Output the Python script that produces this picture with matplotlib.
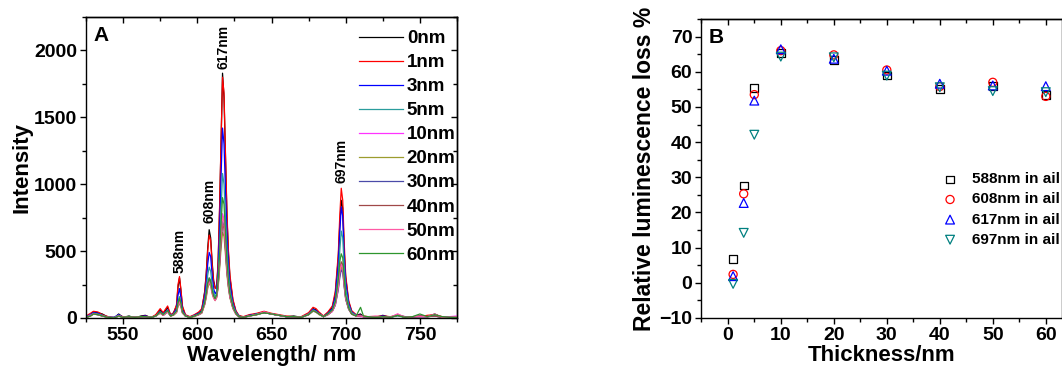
import matplotlib
matplotlib.use("Agg")
import matplotlib.pyplot as plt
from matplotlib.ticker import MultipleLocator

plt.rcParams["font.family"] = "Liberation Sans"
plt.rcParams["font.weight"] = "bold"
plt.rcParams["axes.linewidth"] = 1.0

# 1) Spectra (panel A)
wavelength = [525, 528, 530, 533, 536, 540, 544, 547, 550, 554,
              558, 562, 565, 569, 572, 575, 577, 580, 582, 584,
              586, 587, 588, 589, 590, 592, 595, 598, 601, 603,
              605, 606, 607, 608, 609, 610, 611, 612, 613, 614,
              615, 616, 617, 618, 619, 620, 621, 622, 624, 626,
              628, 631, 635, 640, 645, 650, 655, 660, 665, 670,
              675, 678, 680, 682, 685, 688, 691, 693, 695, 696,
              697, 698, 699, 700, 702, 704, 707, 710, 712, 715,
              720, 725, 730, 735, 740, 745, 750, 755, 760, 765,
              770, 775]

int_0nm = [10, 20, 45, 40, 30, 5, 0, 30, 5, 15,
           0, 15, 20, 0, 20, 60, 30, 80, 20, 40,
           90, 230, 300, 200, 80, 20, 5, 20, 40, 60,
           200, 330, 520, 660, 600, 420, 280, 230, 220, 400,
           800, 1300, 1830, 1650, 1200, 750, 480, 300, 130, 50,
           15, 5, 20, 30, 45, 30, 20, 10, 15, 5,
           30, 70, 60, 40, 10, 40, 80, 180, 450, 700,
           880, 820, 500, 300, 120, 50, 20, 30, 10, 10,
           5, 20, 5, 25, 5, 5, 15, 10, 30, 5,
           10, 5]
int_1nm = [15, 35, 50, 45, 25, 10, 5, 20, 10, 10,
           5, 10, 15, 5, 25, 70, 40, 90, 25, 35,
           100, 250, 310, 210, 90, 25, 10, 25, 45, 70,
           190, 320, 500, 620, 580, 400, 270, 220, 230, 420,
           820, 1320, 1800, 1680, 1220, 780, 500, 320, 140, 55,
           20, 10, 25, 35, 50, 35, 25, 15, 10, 10,
           40, 80, 70, 45, 15, 45, 90, 200, 480, 760,
           970, 880, 560, 320, 130, 55, 25, 20, 15, 10,
           10, 15, 10, 20, 10, 10, 10, 20, 25, 10,
           5, 10]
int_3nm = [10, 25, 40, 35, 20, 5, 5, 25, 5, 10,
           5, 10, 15, 5, 15, 50, 30, 60, 20, 30,
           70, 170, 220, 150, 60, 20, 5, 20, 35, 50,
           160, 260, 400, 490, 460, 320, 220, 180, 200, 340,
           650, 1050, 1420, 1300, 950, 620, 400, 250, 110, 45,
           15, 5, 20, 30, 40, 30, 20, 10, 10, 5,
           30, 65, 55, 35, 10, 35, 70, 160, 400, 640,
           830, 760, 460, 270, 110, 45, 20, 20, 10, 10,
           5, 15, 5, 20, 5, 10, 10, 10, 20, 5,
           10, 5]
int_5nm = [10, 20, 35, 30, 20, 5, 5, 20, 5, 10,
           5, 10, 10, 5, 15, 45, 25, 55, 15, 25,
           55, 120, 160, 110, 50, 15, 5, 15, 30, 45,
           130, 210, 320, 380, 350, 250, 190, 160, 180, 290,
           520, 800, 1080, 1000, 750, 500, 330, 210, 95, 40,
           15, 5, 15, 30, 40, 30, 20, 10, 10, 5,
           30, 60, 50, 30, 10, 30, 60, 130, 320, 500,
           650, 600, 380, 220, 95, 40, 20, 15, 10, 10,
           5, 10, 5, 15, 5, 10, 10, 10, 15, 5,
           5, 5]
int_10nm = [5, 20, 30, 25, 15, 5, 0, 20, 5, 10,
            5, 10, 10, 5, 15, 40, 20, 50, 15, 25,
            45, 95, 120, 90, 40, 15, 5, 15, 25, 40,
            110, 170, 250, 300, 280, 200, 160, 140, 160, 250,
            420, 620, 780, 740, 560, 380, 260, 170, 80, 35,
            10, 5, 15, 25, 45, 30, 20, 10, 10, 5,
            25, 55, 45, 30, 10, 25, 50, 100, 230, 340,
            400, 380, 250, 150, 70, 30, 15, 10, 10, 10,
            5, 10, 5, 30, 5, 10, 15, 10, 15, 5,
            10, 15]
int_20nm = [5, 15, 30, 25, 15, 5, 0, 15, 5, 10,
            5, 10, 10, 5, 15, 35, 20, 45, 15, 20,
            40, 85, 110, 80, 35, 15, 5, 10, 25, 35,
            100, 150, 220, 260, 240, 180, 150, 130, 150, 220,
            360, 520, 640, 610, 470, 320, 220, 150, 70, 30,
            10, 5, 15, 25, 40, 30, 20, 10, 10, 5,
            25, 50, 45, 25, 10, 25, 50, 100, 220, 320,
            380, 360, 240, 140, 65, 30, 15, 15, 10, 10,
            5, 10, 5, 20, 5, 10, 10, 10, 15, 5,
            5, 5]
int_30nm = [5, 15, 30, 25, 15, 5, 0, 15, 5, 10,
            5, 10, 10, 5, 15, 40, 20, 45, 15, 25,
            45, 100, 130, 95, 40, 15, 5, 15, 25, 40,
            110, 170, 250, 290, 270, 200, 160, 140, 160, 240,
            400, 580, 720, 690, 520, 350, 240, 160, 75, 30,
            10, 5, 15, 25, 40, 30, 20, 10, 10, 5,
            25, 55, 45, 30, 10, 25, 50, 95, 210, 300,
            360, 340, 230, 140, 65, 30, 15, 15, 10, 10,
            5, 10, 5, 20, 10, 10, 10, 10, 15, 5,
            5, 5]
int_40nm = [5, 15, 30, 25, 15, 5, 0, 15, 5, 10,
            5, 10, 10, 5, 15, 40, 20, 50, 15, 25,
            45, 105, 140, 100, 45, 15, 5, 15, 25, 40,
            105, 165, 240, 280, 260, 195, 155, 135, 155, 235,
            390, 570, 700, 670, 510, 340, 235, 155, 75, 30,
            10, 5, 15, 25, 40, 30, 20, 10, 10, 5,
            25, 55, 45, 30, 10, 25, 55, 110, 250, 360,
            420, 400, 260, 150, 70, 30, 15, 15, 10, 10,
            5, 10, 5, 20, 5, 10, 15, 10, 15, 5,
            5, 5]
int_50nm = [5, 15, 30, 25, 15, 5, 0, 15, 5, 10,
            5, 10, 10, 5, 15, 40, 20, 45, 15, 25,
            40, 95, 120, 90, 40, 15, 5, 15, 25, 40,
            100, 160, 235, 270, 250, 190, 150, 130, 155, 245,
            420, 610, 760, 720, 540, 360, 245, 160, 75, 30,
            10, 5, 15, 25, 45, 30, 20, 10, 10, 5,
            25, 55, 45, 30, 10, 25, 50, 100, 230, 340,
            400, 380, 250, 150, 70, 30, 15, 15, 10, 10,
            15, 10, 5, 30, 5, 10, 10, 10, 30, 5,
            5, 10]
int_60nm = [5, 15, 30, 25, 15, 5, 0, 15, 5, 10,
            5, 10, 10, 5, 15, 45, 25, 55, 15, 25,
            50, 115, 150, 110, 45, 15, 5, 15, 30, 45,
            115, 180, 260, 300, 280, 210, 165, 145, 170, 270,
            470, 700, 900, 850, 640, 420, 280, 180, 85, 35,
            10, 5, 15, 25, 40, 30, 20, 10, 10, 5,
            25, 55, 45, 30, 10, 30, 60, 120, 290, 420,
            480, 450, 300, 170, 75, 30, 15, 80, 15, 10,
            5, 10, 5, 20, 5, 10, 30, 10, 25, 10,
            5, 5]

spectra = [int_0nm, int_1nm, int_3nm, int_5nm, int_10nm,
           int_20nm, int_30nm, int_40nm, int_50nm, int_60nm]
spectra_labels = ["0nm", "1nm", "3nm", "5nm", "10nm",
                  "20nm", "30nm", "40nm", "50nm", "60nm"]
spectra_colors = ["#000000", "#ff0000", "#0000ff", "#2a9d9d", "#ff33ff",
                  "#9c9c2e", "#4a4aa8", "#a04848", "#ff5aa5", "#2e962e"]

peak_labels = ["588nm", "608nm", "617nm", "697nm"]
peak_x = [588, 608.5, 617.5, 697.3]
peak_y = [340, 710, 1860, 1010]

# 2) Relative luminescence loss (panel B)
thickness = [1, 3, 5, 10, 20, 30, 40, 50, 60]
loss_588 = [6.7, 27.7, 55.3, 65.4, 63.3, 58.9, 55.1, 55.9, 53.4]
loss_608 = [2.4, 25.3, 53.5, 66.0, 64.8, 60.5, 55.8, 57.0, 53.0]
loss_617 = [1.9, 22.7, 51.8, 66.4, 63.7, 60.3, 56.6, 56.1, 55.9]
loss_697 = [-0.3, 14.2, 42.1, 64.3, 64.1, 58.9, 55.6, 54.5, 54.2]
loss_labels = ["588nm in ail", "608nm in ail", "617nm in ail", "697nm in ail"]

fig = plt.figure(figsize=(10.62, 3.73), dpi=100)
W, H = 1062.0, 373.0
axA = fig.add_axes([86 / W, 1 - 318 / H, 371 / W, 301 / H])
axB = fig.add_axes([701.3 / W, 1 - 318 / H, 360.4 / W, 299 / H])

# 3) Panel A
for vals, lab, col in zip(spectra, spectra_labels, spectra_colors):
    axA.plot(wavelength, vals, color=col, lw=0.9, label=lab)

for lab, x, y in zip(peak_labels, peak_x, peak_y):
    axA.text(x, y, lab, rotation=90, ha="center", va="bottom",
             fontsize=10, fontweight="bold")

axA.set_xlim(525, 775)
axA.set_ylim(0, 2250)
axA.xaxis.set_major_locator(MultipleLocator(50))
axA.xaxis.set_minor_locator(MultipleLocator(25))
axA.yaxis.set_major_locator(MultipleLocator(500))
axA.yaxis.set_minor_locator(MultipleLocator(250))
axA.set_xlabel("Wavelength/ nm", fontsize=16, fontweight="bold", labelpad=1)
axA.set_ylabel("Intensity", fontsize=16, fontweight="bold", labelpad=1)
axA.text(0.02, 0.97, "A", transform=axA.transAxes, fontsize=15,
         fontweight="bold", va="top", ha="left")
axA.legend(loc="upper left", bbox_to_anchor=(0.736, 0.957), frameon=False,
           fontsize=13.5, handlelength=2.35, handletextpad=0.2,
           labelspacing=0.37, borderpad=0, borderaxespad=0)

# 4) Panel B
axB.scatter(thickness, loss_588, marker="s", facecolors="none",
            edgecolors="black", s=30, lw=0.9, label=loss_labels[0])
axB.scatter(thickness, loss_608, marker="o", facecolors="none",
            edgecolors="red", s=34, lw=0.9, label=loss_labels[1])
axB.scatter(thickness, loss_617, marker="^", facecolors="none",
            edgecolors="blue", s=40, lw=0.9, label=loss_labels[2])
axB.scatter(thickness, loss_697, marker="v", facecolors="none",
            edgecolors="#008080", s=40, lw=0.9, label=loss_labels[3])

axB.set_xlim(-5, 63)
axB.set_ylim(-10, 75)
axB.xaxis.set_major_locator(MultipleLocator(10))
axB.xaxis.set_minor_locator(MultipleLocator(5))
axB.yaxis.set_major_locator(MultipleLocator(10))
axB.yaxis.set_minor_locator(MultipleLocator(5))
axB.set_xlabel("Thickness/nm", fontsize=16, fontweight="bold", labelpad=1)
axB.set_ylabel("Relative luminescence loss %", fontsize=16.5,
               fontweight="bold", labelpad=2)
axB.text(0.02, 0.97, "B", transform=axB.transAxes, fontsize=15,
         fontweight="bold", va="top", ha="left")
axB.legend(loc="upper left", bbox_to_anchor=(0.669, 0.487), frameon=False,
           fontsize=11, handlelength=1.0, handletextpad=0.95,
           labelspacing=0.4, borderpad=0, borderaxespad=0, scatterpoints=1)

# 5) Ticks: out on bottom/left, in on top (and right on panel A)
for ax, xmaj, xmin, ymaj, ymin in [(axA, 50, 25, 500, 250), (axB, 10, 5, 10, 5)]:
    ax.tick_params(which="major", direction="out", length=4.5, width=1,
                   labelsize=14, pad=2)
    ax.tick_params(which="minor", direction="out", length=3, width=1)
    for lab in ax.get_xticklabels() + ax.get_yticklabels():
        lab.set_fontweight("bold")
    top = ax.secondary_xaxis("top")
    top.xaxis.set_major_locator(MultipleLocator(xmaj))
    top.xaxis.set_minor_locator(MultipleLocator(xmin))
    top.tick_params(which="both", direction="in", labeltop=False, width=1)
    top.tick_params(which="major", length=4.5)
    top.tick_params(which="minor", length=3)

right = axA.secondary_yaxis("right")
right.yaxis.set_major_locator(MultipleLocator(500))
right.yaxis.set_minor_locator(MultipleLocator(250))
right.tick_params(which="both", direction="in", labelright=False, width=1)
right.tick_params(which="major", length=4.5)
right.tick_params(which="minor", length=3)

fig.savefig("out.png", dpi=100)
